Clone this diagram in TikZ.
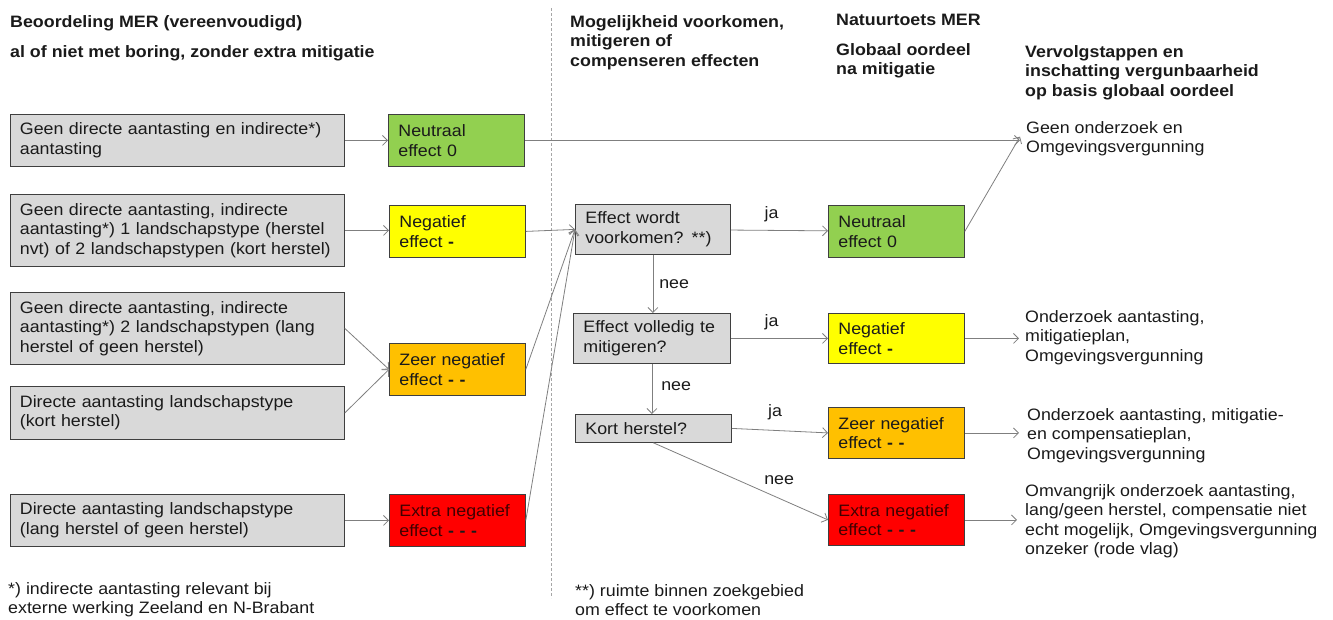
\documentclass[tikz,border=0pt]{standalone}
\usepackage{fontspec}
\setmainfont{Liberation Sans}[FakeStretch=1.08]
\usetikzlibrary{arrows.meta}
\definecolor{boxgray}{HTML}{D9D9D9}
\definecolor{edgegray}{HTML}{3F3F3F}
\definecolor{linegray}{HTML}{7F7F7F}
\definecolor{dashgray}{HTML}{A6A6A6}
\definecolor{fgreen}{HTML}{92D050}
\definecolor{fyellow}{HTML}{FFFF00}
\definecolor{forange}{HTML}{FFC000}
\definecolor{fred}{HTML}{FF0000}
\definecolor{redtext}{HTML}{420000}
\definecolor{ink}{HTML}{1A1A1A}
\begin{document}
\begin{tikzpicture}[x=1pt,y=-1pt,
  every node/.style={font=\fontsize{16.5}{19.5}\selectfont, text=ink},
  box/.style={draw=edgegray, line width=0.8pt, anchor=north west, align=left,
    inner ysep=0pt},
  cond/.style={box, fill=boxgray, inner xsep=9.5pt},
  effect/.style={box, inner xsep=10pt, text width=116pt, minimum height=52pt},
  txt/.style={anchor=north west, align=left, inner sep=0pt},
  head/.style={txt, font=\bfseries\fontsize{16.5}{19.5}\selectfont},
  lbl/.style={inner sep=0pt},
  link/.style={draw=linegray, line width=0.8pt,
    -{Straight Barb[length=5pt,width=10pt]}},
]
\useasboundingbox (0,0) rectangle (1333,619);

% column separator
\draw[dashgray, line width=0.9pt, dash pattern=on 3pt off 2pt] (551,8) -- (551,598);

% column headings
\node[head] (h1) at (10,15) {Beoordeling MER (vereenvoudigd)};
\node[head] (h2) at (10,45) {al of niet met boring, zonder extra mitigatie};
\node[head] (h3) at (570,15) {Mogelijkheid voorkomen,\\mitigeren of\\compenseren effecten};
\node[head] (h4) at (836,14) {Natuurtoets MER};
\node[head] (h5) at (836,43) {Globaal oordeel\\na mitigatie};
\node[head] (h6) at (1025,45) {Vervolgstappen en\\inschatting vergunbaarheid\\op basis globaal oordeel};

% situations (left column)
\node[cond, text width=315pt, minimum height=52pt] (b1) at (10,114)
  {Geen directe aantasting en indirecte*)\\aantasting};
\node[cond, text width=315pt, minimum height=72pt] (b2) at (10,194)
  {Geen directe aantasting, indirecte\\aantasting*) 1 landschapstype (herstel\\nvt) of 2 landschapstypen (kort herstel)};
\node[cond, text width=315pt, minimum height=72pt] (b3) at (10,292)
  {Geen directe aantasting, indirecte\\aantasting*) 2 landschapstypen (lang\\herstel of geen herstel)};
\node[cond, text width=315pt, minimum height=53pt] (b4) at (10,386)
  {Directe aantasting landschapstype\\(kort herstel)};
\node[cond, text width=315pt, minimum height=52pt] (b5) at (10,494)
  {Directe aantasting landschapstype\\(lang herstel of geen herstel)};

% assessment without mitigation
\node[effect, fill=fgreen] (n1) at (388,114) {Neutraal\\effect 0};
\node[effect, fill=fyellow] (y1) at (389,205) {Negatief\\effect \textbf{-}};
\node[effect, fill=forange] (o1) at (389,343) {Zeer negatief\\effect \textbf{- -}};
\node[effect, fill=fred, text=redtext] (r1) at (389,494) {Extra negatief\\effect \textcolor{ink}{\textbf{- - -}}};

% mitigation questions
\node[cond, inner xsep=10pt, text width=135pt, minimum height=50pt] (m1) at (575,204)
  {Effect wordt\\voorkomen? **)};
\node[cond, inner xsep=10pt, text width=137pt, minimum height=50pt] (m2) at (573,313)
  {Effect volledig te\\mitigeren?};
\node[cond, inner xsep=10pt, text width=136pt, minimum height=28pt] (m3) at (575,414)
  {Kort herstel?};

% overall assessment after mitigation
\node[effect, fill=fgreen] (g2) at (828,205) {Neutraal\\effect 0};
\node[effect, fill=fyellow, minimum height=50pt] (y2) at (828,313) {Negatief\\effect \textbf{-}};
\node[effect, fill=forange, minimum height=51pt] (o2) at (828,407) {Zeer negatief\\effect \textbf{- -}};
\node[effect, fill=fred, text=redtext, minimum height=51pt] (r2) at (828,494) {Extra negatief\\effect \textcolor{ink}{\textbf{- - -}}};

% follow-up steps
\node[txt] (t1) at (1026,121) {Geen onderzoek en\\Omgevingsvergunning};
\node[txt] (t2) at (1025,310) {Onderzoek aantasting,\\mitigatieplan,\\Omgevingsvergunning};
\node[txt] (t3) at (1027,408) {Onderzoek aantasting, mitigatie-\\en compensatieplan,\\Omgevingsvergunning};
\node[txt] (t4) at (1025,484) {Omvangrijk onderzoek aantasting,\\lang/geen herstel, compensatie niet\\echt mogelijk, Omgevingsvergunning\\onzeker (rode vlag)};

% footnotes
\node[txt] (f1) at (8,582) {*) indirecte aantasting relevant bij\\externe werking Zeeland en N-Brabant};
\node[txt] (f2) at (575,584) {**) ruimte binnen zoekgebied\\om effect te voorkomen};

% connectors
\coordinate (t1in) at ([xshift=-6pt,yshift=2pt]t1.west);
\draw[link] (b1) -- (n1);
\draw[link] (n1.east) -- (n1.east -| t1in);
\draw[link] (g2.east) -- (t1in);
\draw[link] (b2.east) -- (b2.east -| y1.west);
\draw[link] (b3.east) -- (o1.west);
\draw[link] (b4.east) -- (o1.west);
\draw[link] (b5.east) -- (b5.east -| r1.west);
\draw[link] (y1.east) -- (m1.west);
\draw[link] (o1.east) -- (m1.west);
\draw[link] (r1.east) -- (m1.west);

\draw[link] (m1) -- node[lbl, pos=0.42, above=8pt] (l1) {ja} (g2);
\draw[link] (m1.south) -- node[lbl, right=6pt] (l2) {nee} (m1.south |- m2.north);
\draw[link] (m2) -- node[lbl, pos=0.42, above=8pt] (l3) {ja} (y2);
\draw[link] (m2.south) -- node[lbl, right=9pt, yshift=3pt] (l4) {nee} (m2.south |- m3.north);
\draw[link] (m3.east) -- node[lbl, pos=0.45, above=10pt] (l5) {ja} (o2.west);
\draw[link] (m3.south) -- node[lbl, pos=0.72, above=13pt] (l6) {nee} (r2.west);

\draw[link, shorten >=6pt] (y2.east) -- (y2.east -| t2.west);
\draw[link, shorten >=8pt] (o2.east) -- (o2.east -| t3.west);
\draw[link, shorten >=8pt] (r2.east) -- (r2.east -| t4.west);
\end{tikzpicture}
\end{document}
